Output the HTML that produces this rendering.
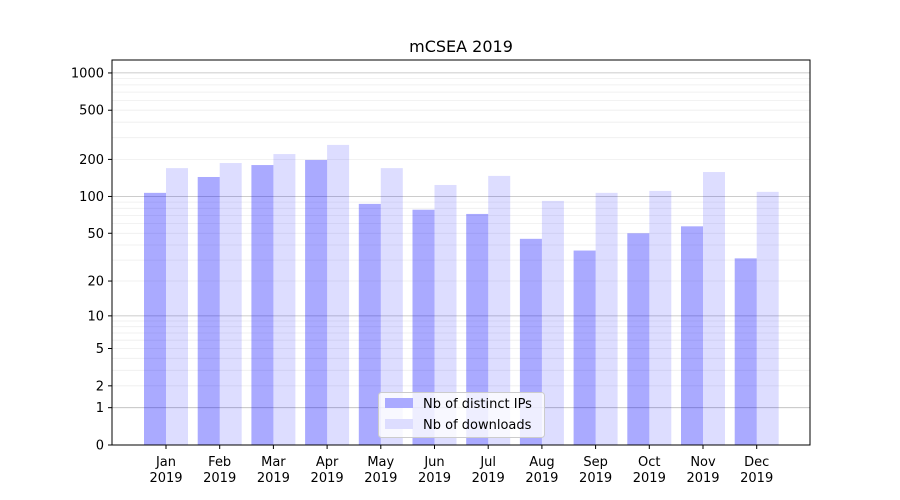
<!DOCTYPE html>
<html><head><meta charset="utf-8"><style>body{margin:0;background:#fff}svg{display:block;font-family:"DejaVu Sans","Liberation Sans",sans-serif}</style></head>
<body>
<svg id="c" width="900" height="500" xmlns="http://www.w3.org/2000/svg"></svg>
<script>
const s=document.getElementById('c');let h='';
const Y=v=>445-124*Math.log10(v+1);
for(let k=0;k<3;k++)for(let m=2;m<10;m++){const v=m*Math.pow(10,k);h+=`<line x1="112" x2="810" y1="${Y(v).toFixed(1)}" y2="${Y(v).toFixed(1)}" stroke="#eee" stroke-width="0.8"/>`;}
[1,10,100,1000].forEach(v=>{h+=`<line x1="112" x2="810" y1="${Y(v).toFixed(1)}" y2="${Y(v).toFixed(1)}" stroke="#bbb" stroke-width="0.8"/>`;});
const ips=[107,144,180,198,87,78,72,45,36,50,57,31],dl=[170,187,221,262,170,124,147,92,107,111,158,109];
const mo=['Jan','Feb','Mar','Apr','May','Jun','Jul','Aug','Sep','Oct','Nov','Dec'];
for(let i=0;i<12;i++){const c=166+i*53.7;
h+=`<rect x="${c-22}" y="${Y(ips[i])}" width="22" height="${445-Y(ips[i])}" fill="#0000ff" fill-opacity="0.333"/>`;
h+=`<rect x="${c}" y="${Y(dl[i])}" width="22" height="${445-Y(dl[i])}" fill="#0000ff" fill-opacity="0.133"/>`;
h+=`<line x1="${c}" x2="${c}" y1="445" y2="449" stroke="#000"/>`;
h+=`<text x="${c}" y="466" font-size="13" text-anchor="middle">${mo[i]}</text><text x="${c}" y="482" font-size="13" text-anchor="middle">2019</text>`;}
[0,1,2,5,10,20,50,100,200,500,1000].forEach(v=>{const y=Y(v);h+=`<line x1="108" x2="112" y1="${y}" y2="${y}" stroke="#000"/><text x="104" y="${y+4.5}" font-size="13" text-anchor="end">${v}</text>`;});
h+=`<rect x="112" y="60" width="698" height="385" fill="none" stroke="#000" stroke-width="1"/>`;
h+=`<text x="461" y="52" font-size="16" text-anchor="middle">mCSEA 2019</text>`;
h+=`<rect x="378.5" y="392.5" width="166" height="45" rx="3" fill="#fff" fill-opacity="0.8" stroke="#ccc"/>`;
h+=`<rect x="385" y="398" width="28" height="10" fill="#aaaaff"/><text x="423" y="408" font-size="13">Nb of distinct IPs</text>`;
h+=`<rect x="385" y="419" width="28" height="10" fill="#ddddff"/><text x="423" y="429" font-size="13">Nb of downloads</text>`;
s.innerHTML=h;
</script>
</body></html>
